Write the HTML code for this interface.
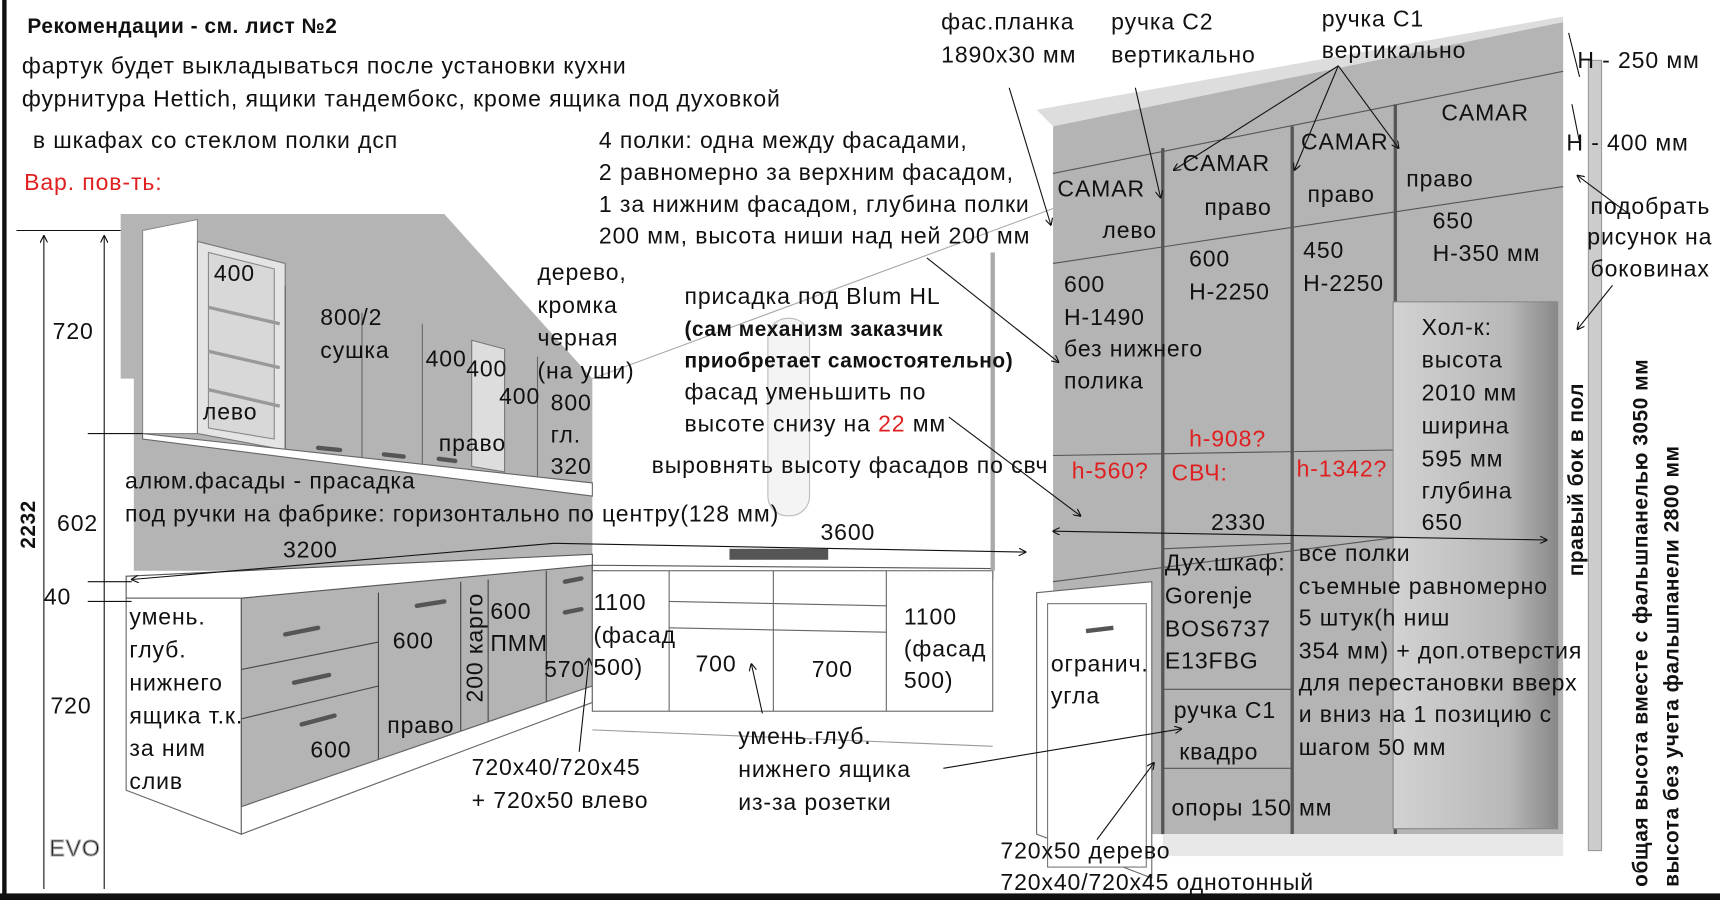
<!DOCTYPE html>
<html><head><meta charset="utf-8"><style>
html,body{margin:0;padding:0;background:#fff;width:1720px;height:900px;overflow:hidden}
svg{display:block}
text{font-family:"Liberation Sans",sans-serif;font-size:21px;letter-spacing:0.8px;fill:#111}
.r{fill:#e02020}
.b{font-weight:bold;font-size:19px;letter-spacing:0.5px}
</style></head><body>
<svg width="1720" height="900" viewBox="0 0 1568 820" preserveAspectRatio="none" xmlns="http://www.w3.org/2000/svg">
<defs>
<marker id="a" viewBox="0 0 10 10" refX="9" refY="5" markerWidth="7" markerHeight="7" orient="auto-start-reverse"><path d="M0,0 L10,5 L0,10" fill="none" stroke="#111" stroke-width="1.5"/></marker>
<linearGradient id="fr" x1="0" x2="1"><stop offset="0" stop-color="#d2d2d2"/><stop offset="0.7" stop-color="#b8b8b8"/><stop offset="1" stop-color="#888"/></linearGradient>
</defs>
<rect x="0" y="0" width="1568" height="820" fill="#fff"/>
<rect x="2" y="0" width="4" height="820" fill="#111"/>
<rect x="0" y="814" width="1568" height="6" fill="#111"/>

<polygon points="122,230 122,520 540,520 540,345 410,230" fill="#b4b4b4"/>
<polygon points="110,195 405,195 540,345 110,345" fill="#b4b4b4"/>
<polygon points="130,210 180,200 180,395 130,395" fill="#fff" stroke="#888"/>
<polygon points="180,220 260,240 260,410 180,395" fill="#e4e4e4" stroke="#777"/>
<polygon points="190,230 250,245 250,400 190,390" fill="#d8d8d8" stroke="#888"/>
<line x1="190" y1="280" x2="255" y2="295" stroke="#999" stroke-width="3"/>
<line x1="190" y1="320" x2="255" y2="335" stroke="#999" stroke-width="3"/>
<line x1="190" y1="355" x2="255" y2="370" stroke="#999" stroke-width="3"/>
<line x1="260" y1="260" x2="260" y2="410" stroke="#666"/>
<line x1="330" y1="285" x2="330" y2="420" stroke="#666"/>
<line x1="385" y1="295" x2="385" y2="425" stroke="#666"/>
<polygon points="430,310 460,318 460,430 430,425" fill="#ddd" stroke="#777"/>
<line x1="490" y1="325" x2="490" y2="440" stroke="#666"/>
<polygon points="130,395 540,440 540,452 130,400" fill="#fff" stroke="#666"/>
<polygon points="115,525 540,505 540,520 220,545 115,545" fill="#fff" stroke="#555"/>
<polygon points="115,545 220,545 220,760 115,720" fill="#fff" stroke="#666"/>
<polygon points="220,545 540,515 540,625 220,735" fill="#b4b4b4" stroke="#555"/>
<line x1="220" y1="610" x2="345" y2="585" stroke="#444"/>
<line x1="220" y1="655" x2="345" y2="625" stroke="#444"/>
<line x1="345" y1="540" x2="345" y2="700" stroke="#444"/>
<line x1="420" y1="530" x2="420" y2="670" stroke="#444"/>
<line x1="445" y1="528" x2="445" y2="660" stroke="#444"/>
<line x1="498" y1="520" x2="498" y2="640" stroke="#444"/>
<polygon points="220,735 540,625 540,640 220,760" fill="#fff" stroke="#666"/>
<g stroke="#555" stroke-width="4" stroke-linecap="round">
<line x1="260" y1="578" x2="290" y2="572"/><line x1="268" y1="622" x2="300" y2="615"/><line x1="275" y1="660" x2="305" y2="652"/><line x1="380" y1="552" x2="405" y2="548"/><line x1="515" y1="530" x2="530" y2="527"/><line x1="515" y1="558" x2="530" y2="555"/><line x1="290" y1="408" x2="310" y2="410"/><line x1="350" y1="414" x2="368" y2="416"/><line x1="400" y1="418" x2="415" y2="420"/>
</g>
<polygon points="540,515 905,518 905,528 540,520" fill="#fff" stroke="#555"/>
<rect x="540" y="520" width="365" height="128" fill="#fff" stroke="#666"/>
<line x1="610" y1="520" x2="610" y2="648" stroke="#666"/>
<line x1="705" y1="520" x2="705" y2="648" stroke="#666"/>
<line x1="808" y1="520" x2="808" y2="648" stroke="#666"/>
<line x1="610" y1="548" x2="808" y2="552" stroke="#666"/>
<line x1="610" y1="572" x2="808" y2="576" stroke="#666"/>
<rect x="665" y="500" width="90" height="10" fill="#555"/>
<line x1="540" y1="665" x2="905" y2="680" stroke="#999"/>
<polygon points="960,115 1425,20 1425,760 960,760" fill="#b4b4b4"/>
<polygon points="945,100 1425,15 1425,20 960,115" fill="#ddd"/>
<line x1="960" y1="158" x2="1425" y2="65" stroke="#555"/>
<line x1="960" y1="240" x2="1425" y2="170" stroke="#555"/>
<line x1="960" y1="415" x2="1270" y2="410" stroke="#555"/>
<line x1="960" y1="530" x2="1270" y2="490" stroke="#555"/>
<line x1="1060" y1="135" x2="1060" y2="760" stroke="#555" stroke-width="3"/>
<line x1="1178" y1="115" x2="1178" y2="760" stroke="#555" stroke-width="3"/>
<line x1="1272" y1="95" x2="1272" y2="760" stroke="#555" stroke-width="3"/>
<line x1="1060" y1="500" x2="1178" y2="495" stroke="#555"/>
<line x1="1060" y1="628" x2="1178" y2="628" stroke="#555"/>
<line x1="1060" y1="700" x2="1178" y2="700" stroke="#555"/>
<rect x="1270" y="275" width="150" height="480" fill="url(#fr)" stroke="#888"/>
<rect x="1448" y="55" width="12" height="720" fill="#ccc" stroke="#999"/>
<rect x="1060" y="760" width="365" height="20" fill="#e8e8e8"/>
<polygon points="945,540 1050,530 1050,800 945,760" fill="#fff" stroke="#666"/>
<rect x="955" y="550" width="90" height="240" fill="#fff" stroke="#777"/>
<line x1="990" y1="575" x2="1015" y2="572" stroke="#555" stroke-width="4"/>
<rect x="700" y="290" width="38" height="180" rx="18" fill="#f4f4f4" stroke="#bbb"/>
<line x1="905" y1="230" x2="905" y2="520" stroke="#aaa" stroke-width="4"/>
<line x1="540" y1="345" x2="960" y2="190" stroke="#aaa"/>

<g stroke="#111" fill="none">
<line x1="15" y1="210" x2="110" y2="210"/>
<line x1="40" y1="215" x2="40" y2="810" marker-start="url(#a)"/>
<line x1="95" y1="215" x2="95" y2="395" marker-start="url(#a)"/>
<line x1="95" y1="395" x2="95" y2="810"/>
<line x1="80" y1="395" x2="130" y2="395"/>
<line x1="80" y1="530" x2="120" y2="530"/>
<line x1="80" y1="548" x2="120" y2="548"/>
<line x1="505" y1="495" x2="120" y2="528" marker-end="url(#a)"/>
<line x1="505" y1="495" x2="935" y2="503" marker-end="url(#a)"/>
<line x1="960" y1="484" x2="1410" y2="492" marker-start="url(#a)" marker-end="url(#a)"/>
<line x1="920" y1="80" x2="958" y2="205" marker-end="url(#a)"/>
<line x1="1035" y1="80" x2="1058" y2="180" marker-end="url(#a)"/>
<line x1="1220" y1="60" x2="1070" y2="155" marker-end="url(#a)"/>
<line x1="1220" y1="60" x2="1180" y2="155" marker-end="url(#a)"/>
<line x1="1220" y1="60" x2="1275" y2="135" marker-end="url(#a)"/>
<line x1="845" y1="235" x2="965" y2="330" marker-end="url(#a)"/>
<line x1="865" y1="380" x2="985" y2="470" marker-end="url(#a)"/>
<line x1="1485" y1="195" x2="1438" y2="160" marker-end="url(#a)"/>
<line x1="1470" y1="260" x2="1438" y2="300" marker-end="url(#a)"/>
<line x1="528" y1="685" x2="537" y2="600" marker-end="url(#a)"/>
<line x1="695" y1="650" x2="685" y2="605" marker-end="url(#a)"/>
<line x1="860" y1="700" x2="1077" y2="664" marker-end="url(#a)"/>
<line x1="1000" y1="765" x2="1052" y2="695" marker-end="url(#a)"/>
<line x1="1430" y1="30" x2="1440" y2="70"/>
<line x1="1433" y1="95" x2="1440" y2="130"/>
</g>

<text x="25" y="30" class="b">Рекомендации - см. лист №2</text>
<text x="20" y="67">фартук будет выкладываться после установки кухни</text>
<text x="20" y="97">фурнитура Hettich, ящики тандембокс, кроме ящика под духовкой</text>
<text x="30" y="135">в шкафах со стеклом полки дсп</text>
<text x="22" y="173" class="r">Вар. пов-ть:</text>
<text x="195" y="256">400</text>
<text x="48" y="309">720</text>
<text x="292" y="296">800/2</text>
<text x="292" y="326">сушка</text>
<text x="388" y="334">400</text>
<text x="425" y="343">400</text>
<text x="455" y="368">400</text>
<text x="185" y="382">лево</text>
<text x="400" y="411" letter-spacing="4">право</text>
<text x="490" y="255">дерево,</text>
<text x="490" y="285">кромка</text>
<text x="490" y="315">черная</text>
<text x="490" y="345">(на уши)</text>
<text x="502" y="374">800</text>
<text x="502" y="403">гл.</text>
<text x="502" y="432">320</text>
<text x="114" y="445">алюм.фасады - прасадка</text>
<text x="114" y="475">под ручки на фабрике: горизонтально по центру(128 мм)</text>
<text x="52" y="484">602</text>
<text x="32" y="500" class="b" transform="rotate(-90 32 500)">2232</text>
<text x="258" y="508">3200</text>
<text x="748" y="492">3600</text>
<text x="40" y="551">40</text>
<text x="118" y="569">умень.</text>
<text x="118" y="599">глуб.</text>
<text x="118" y="629">нижнего</text>
<text x="118" y="659">ящика т.к.</text>
<text x="118" y="689">за ним</text>
<text x="118" y="719">слив</text>
<text x="46" y="650">720</text>
<text x="358" y="591">600</text>
<text x="353" y="668">право</text>
<text x="283" y="690">600</text>
<text x="440" y="640" transform="rotate(-90 440 640)">200 карго</text>
<text x="447" y="564">600</text>
<text x="447" y="593">ПММ</text>
<text x="496" y="617">570</text>
<text x="541" y="556">1100</text>
<text x="541" y="586">(фасад</text>
<text x="541" y="615">500)</text>
<text x="634" y="612">700</text>
<text x="740" y="617">700</text>
<text x="824" y="569">1100</text>
<text x="824" y="598">(фасад</text>
<text x="824" y="627">500)</text>
<text x="430" y="706">720x40/720x45</text>
<text x="430" y="736">+ 720x50 влево</text>
<text x="673" y="678">умень.глуб.</text>
<text x="673" y="708">нижнего ящика</text>
<text x="673" y="738">из-за розетки</text>
<text x="546" y="135">4 полки: одна между  фасадами,</text>
<text x="546" y="164">2 равномерно за верхним фасадом,</text>
<text x="546" y="193">1 за нижним фасадом, глубина полки</text>
<text x="546" y="222">200 мм, высота ниши над ней 200 мм</text>
<text x="624" y="277">присадка под Blum HL</text>
<text x="624" y="306" class="b">(сам механизм заказчик</text>
<text x="624" y="335" class="b">приобретает самостоятельно)</text>
<text x="624" y="364">фасад уменьшить по</text>
<text x="624" y="393">высоте снизу на <tspan class="r">22</tspan> мм</text>
<text x="594" y="431">выровнять высоту фасадов по свч</text>
<text x="858" y="27">фас.планка</text>
<text x="858" y="57">1890x30 мм</text>
<text x="1013" y="27">ручка С2</text>
<text x="1013" y="57">вертикально</text>
<text x="1205" y="24">ручка С1</text>
<text x="1205" y="53">вертикально</text>
<text x="1438" y="62">Н - 250 мм</text>
<text x="1428" y="137">Н - 400 мм</text>
<text x="1450" y="195">подобрать</text>
<text x="1447" y="223">рисунок на</text>
<text x="1450" y="252">боковинах</text>
<text x="964" y="179">CAMAR</text>
<text x="1005" y="217">лево</text>
<text x="1078" y="156">CAMAR</text>
<text x="1098" y="196">право</text>
<text x="1186" y="136">CAMAR</text>
<text x="1192" y="184">право</text>
<text x="1314" y="110">CAMAR</text>
<text x="1282" y="170">право</text>
<text x="1306" y="208">650</text>
<text x="1306" y="238">Н-350 мм</text>
<text x="970" y="266">600</text>
<text x="970" y="296">Н-1490</text>
<text x="970" y="325">без нижнего</text>
<text x="970" y="354">полика</text>
<text x="1084" y="243">600</text>
<text x="1084" y="273">Н-2250</text>
<text x="1188" y="235">450</text>
<text x="1188" y="265">Н-2250</text>
<text x="1296" y="305">Хол-к:</text>
<text x="1296" y="335">высота</text>
<text x="1296" y="365">2010 мм</text>
<text x="1296" y="395">ширина</text>
<text x="1296" y="425">595 мм</text>
<text x="1296" y="454">глубина</text>
<text x="1296" y="483">650</text>
<text x="1084" y="407" class="r">h-908?</text>
<text x="977" y="436" class="r">h-560?</text>
<text x="1068" y="438" class="r">СВЧ:</text>
<text x="1182" y="434" class="r">h-1342?</text>
<text x="1104" y="483">2330</text>
<text x="1062" y="520">Дух.шкаф:</text>
<text x="1062" y="550">Gorenje</text>
<text x="1062" y="580">BOS6737</text>
<text x="1062" y="609">E13FBG</text>
<text x="958" y="612">огранич.</text>
<text x="958" y="641">угла</text>
<text x="1184" y="511">все полки</text>
<text x="1184" y="541">съемные равномерно</text>
<text x="1184" y="570">5 штук(h ниш</text>
<text x="1184" y="600">354 мм) + доп.отверстия</text>
<text x="1184" y="629">для перестановки вверх</text>
<text x="1184" y="658">и вниз на 1 позицию с</text>
<text x="1184" y="688">шагом 50 мм</text>
<text x="1070" y="654">ручка С1</text>
<text x="1075" y="692">квадро</text>
<text x="1068" y="743" fill="#333">опоры 150 мм</text>
<text x="912" y="782" fill="#333">720x50 дерево</text>
<text x="912" y="811" fill="#333">720x40/720x45 однотонный</text>
<text x="1443" y="525" class="b" transform="rotate(-90 1443 525)">правый бок в пол</text>
<text x="1502" y="808" class="b" transform="rotate(-90 1502 808)" letter-spacing="2">общая высота вместе с фальшпанелью 3050  мм</text>
<text x="1530" y="808" class="b" transform="rotate(-90 1530 808)" letter-spacing="2">высота без учета фальшпанели 2800 мм</text>
<text x="45" y="780" font-size="34" fill="#eee" stroke="#aaa">EVO</text>
</svg>
</body></html>
